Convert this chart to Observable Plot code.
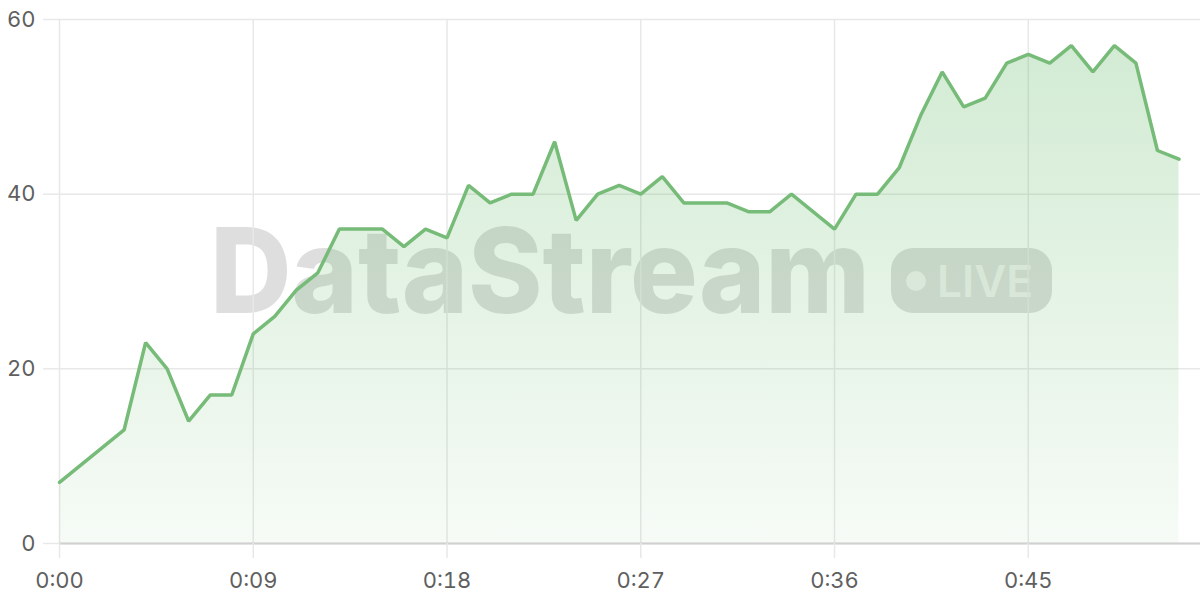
<!DOCTYPE html>
<html>
<head>
<meta charset="utf-8">
<script src="https://cdn.jsdelivr.net/npm/d3@7"></script>
<script src="https://cdn.jsdelivr.net/npm/@observablehq/plot@0.6"></script>
<style>
  html, body { margin: 0; padding: 0; background: #fff; }
  #chart { width: 1200px; height: 600px; }
</style>
</head>
<body>
<div id="chart"></div>
<script>
const seconds = [0,1,2,3,4,5,6,7,8,9,10,11,12,13,14,15,16,17,18,19,20,21,22,23,24,25,26,27,28,29,30,31,32,33,34,35,36,37,38,39,40,41,42,43,44,45,46,47,48,49,50,51,52];
const values = [7,9,11,13,23,20,14,17,17,24,26,29,31,36,36,36,34,36,35,41,39,40,40,46,37,40,41,40,42,39,39,39,38,38,40,38,36,40,40,43,49,54,50,51,55,56,55,57,54,57,55,45,44];
const xTicks = [0,9,18,27,36,45];
const yTicks = [0,20,40,60];
const watermarkText = "DataStream";
const badgeText = "LIVE";

const data = seconds.map((t, i) => ({t, v: values[i]}));
const fmt = s => `${Math.floor(s / 60)}:${String(s % 60).padStart(2, "0")}`;

const chart = Plot.plot({
  width: 1200,
  height: 600,
  marginLeft: 59,
  marginRight: 0,
  marginTop: 19,
  marginBottom: 57,
  style: {background: "transparent", fontFamily: "Inter, 'DejaVu Sans', sans-serif", fontSize: "22px", color: "#5f5f5f"},
  x: {domain: [0, 53]},
  y: {domain: [0, 60]},
  marks: [
    Plot.gridY(yTicks, {stroke: "#e8e8e8", strokeOpacity: 1, strokeWidth: 1.5}),
    Plot.gridX(xTicks, {stroke: "#e8e8e8", strokeOpacity: 1, strokeWidth: 1.5}),
    Plot.areaY(data, {x: "t", y: "v", fill: "url(#areaGrad)"}),
    Plot.ruleY([0], {stroke: "#d0d0d0", strokeWidth: 2}),
    Plot.axisY(yTicks, {tickSize: 16, tickPadding: 8, stroke: "#e8e8e8", strokeOpacity: 1, strokeWidth: 1.5, fill: "#5f5f5f", label: null}),
    Plot.axisX(xTicks, {tickSize: 15, tickPadding: 14, stroke: "#e8e8e8", strokeOpacity: 1, strokeWidth: 1.5, fill: "#5f5f5f", tickFormat: fmt, label: null}),
    Plot.lineY(data, {x: "t", y: "v", stroke: "#77bb78", strokeWidth: 3.5, strokeLinejoin: "miter"})
  ]
});

const svg = d3.select(chart);
const defs = svg.insert("defs", ":first-child");
const g = defs.append("linearGradient").attr("id", "areaGrad")
  .attr("gradientUnits", "userSpaceOnUse")
  .attr("x1", 0).attr("y1", 19).attr("x2", 0).attr("y2", 543);
g.append("stop").attr("offset", "0%").attr("stop-color", "#4caf50").attr("stop-opacity", 0.26);
g.append("stop").attr("offset", "100%").attr("stop-color", "#4caf50").attr("stop-opacity", 0.05);

// watermark drawn behind everything
const wm = svg.insert("g", "defs + *").attr("class", "watermark").attr("text-anchor", "start");
wm.append("text")
  .attr("x", 210).attr("y", 313)
  .attr("text-anchor", "start")
  .attr("font-family", "Inter, 'DejaVu Sans', sans-serif")
  .attr("font-weight", 800)
  .attr("font-size", 118)
  .attr("textLength", 660)
  .attr("lengthAdjust", "spacingAndGlyphs")
  .attr("fill", "#000").attr("fill-opacity", 0.13)
  .text(watermarkText);
wm.append("rect")
  .attr("x", 891).attr("y", 248).attr("width", 161).attr("height", 65).attr("rx", 22)
  .attr("fill", "#000").attr("fill-opacity", 0.13);
wm.append("circle")
  .attr("cx", 916).attr("cy", 281).attr("r", 10)
  .attr("fill", "#fff").attr("fill-opacity", 0.6);
wm.append("text")
  .attr("x", 937).attr("y", 297)
  .attr("text-anchor", "start")
  .attr("font-family", "Inter, 'DejaVu Sans', sans-serif")
  .attr("font-weight", 600)
  .attr("font-size", 44)
  .attr("textLength", 96)
  .attr("lengthAdjust", "spacingAndGlyphs")
  .attr("fill", "#fff").attr("fill-opacity", 0.6)
  .text(badgeText);

document.getElementById("chart").appendChild(chart);
</script>
</body>
</html>
